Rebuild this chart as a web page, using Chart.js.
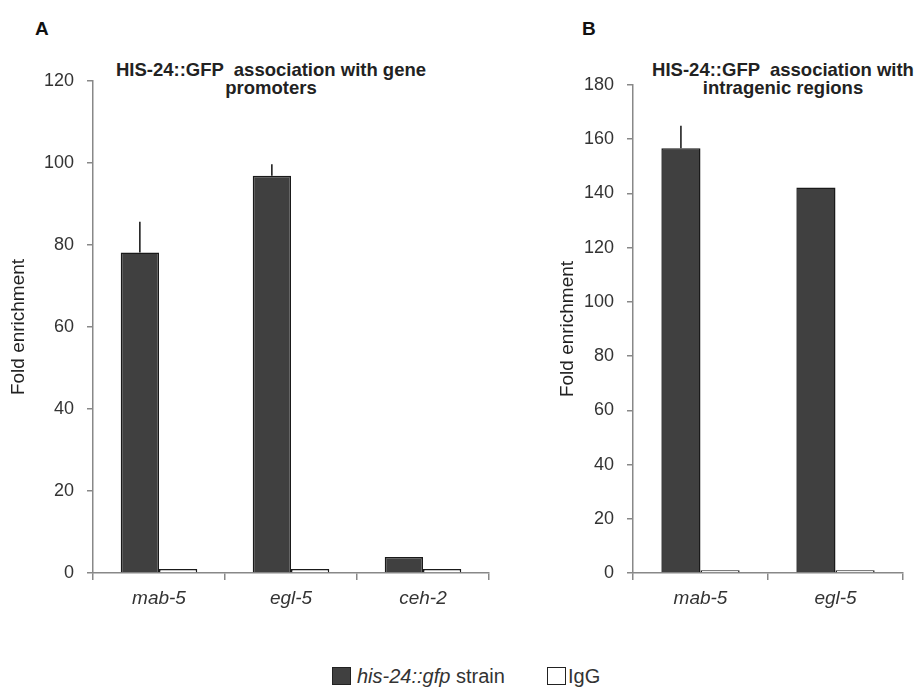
<!DOCTYPE html>
<html>
<head>
<meta charset="utf-8">
<script src="https://cdn.jsdelivr.net/npm/chart.js@4"></script>
<style>
  html, body { margin: 0; padding: 0; background: #fff; overflow: hidden; }
  body { width: 917px; height: 688px; position: relative; font-family: 'Liberation Sans', Arial, sans-serif; }
  canvas { position: absolute; top: 0; }
  .letter { position: absolute; font-weight: bold; font-size: 19px; color: #111; }
  .title { position: absolute; font-weight: bold; font-size: 18.5px; line-height: 18px; color: #222; text-align: center; white-space: pre; }
  .lg { position: absolute; font-size: 20px; line-height: 20px; color: #333; white-space: pre; }
  .box { position: absolute; width: 17px; height: 16px; border: 1px solid #222; }
</style>
</head>
<body>
<div class="letter" style="left:35px; top:18px;">A</div>
<div class="letter" style="left:582px; top:18px;">B</div>
<div class="title" style="left:71px; width:400px; top:61px;">HIS-24::GFP  association with gene
promoters</div>
<div class="title" style="left:633px; width:300px; top:61px;">HIS-24::GFP  association with
intragenic regions</div>

<canvas id="chartA" width="542" height="640" style="left:0px;"></canvas>
<canvas id="chartB" width="375" height="640" style="left:542px;"></canvas>

<div class="box" style="left:332px; top:667px; background:#404040;"></div>
<div class="lg" style="left:357px; top:666px;"><i>his-24::gfp</i> strain</div>
<div class="box" style="left:547px; top:667px; background:#fff;"></div>
<div class="lg" style="left:568px; top:666px;">IgG</div>

<script>
// panel A: promoters
const catsA = ['mab-5', 'egl-5', 'ceh-2'];
const strainA = [78.2, 96.9, 3.9];
const strainErrA = [7.5, 2.8, 0];
const iggA = [1, 1, 1];
const yTicksA = [0, 20, 40, 60, 80, 100, 120];

// panel B: intragenic regions
const catsB = ['mab-5', 'egl-5'];
const strainB = [156.7, 142.2];
const strainErrB = [8.3, 0];
const iggB = [1, 1];
const yTicksB = [0, 20, 40, 60, 80, 100, 120, 140, 160, 180];

const font = "'Liberation Sans', Arial, sans-serif";

// upward-only error bars on the first dataset
const errorBars = {
  id: 'errorBars',
  afterDatasetsDraw(chart, args, opts) {
    const meta = chart.getDatasetMeta(0);
    const y = chart.scales.y;
    const vals = chart.data.datasets[0].data;
    const ctx = chart.ctx;
    ctx.save();
    ctx.strokeStyle = '#111';
    ctx.lineWidth = 1.5;
    meta.data.forEach((bar, i) => {
      const err = opts.errors[i];
      if (!err) return;
      ctx.beginPath();
      ctx.moveTo(bar.x, y.getPixelForValue(vals[i]));
      ctx.lineTo(bar.x, y.getPixelForValue(vals[i] + err));
      ctx.stroke();
    });
    ctx.restore();
  }
};

function makeChart(id, cats, strain, igg, errs, ticks, pad, yWidth, titlePad) {
  return new Chart(document.getElementById(id), {
    type: 'bar',
    data: {
      labels: cats,
      datasets: [
        { label: 'his-24::gfp strain', data: strain, backgroundColor: '#404040', borderColor: '#1a1a1a', borderWidth: 1.5 },
        { label: 'IgG', data: igg, backgroundColor: '#ffffff', borderColor: '#1a1a1a', borderWidth: 1.5 }
      ]
    },
    options: {
      responsive: false,
      animation: false,
      datasets: { bar: { categoryPercentage: 0.58, barPercentage: 1 } },
      layout: { padding: pad },
      plugins: {
        legend: { display: false },
        tooltip: { enabled: false },
        errorBars: { errors: errs }
      },
      scales: {
        x: {
          grid: { display: true, offset: true, drawOnChartArea: false, drawTicks: true, tickLength: 7, color: '#888', lineWidth: 1.5 },
          border: { color: '#888', width: 1.5 },
          ticks: { color: '#333', padding: 7, font: { family: font, size: 19, style: 'italic' } },
          afterFit(scale) { scale.height = 50; }
        },
        y: {
          min: 0,
          max: ticks[ticks.length - 1],
          afterBuildTicks(scale) { scale.ticks = ticks.map(v => ({ value: v })); },
          grid: { drawOnChartArea: false, drawTicks: true, tickLength: 6, color: '#888', lineWidth: 1.5 },
          border: { color: '#888', width: 1.5 },
          ticks: { color: '#333', padding: 13, font: { family: font, size: 18 } },
          title: { display: true, text: 'Fold enrichment', color: '#222', padding: { top: titlePad, bottom: 0 }, font: { family: font, size: 19 } },
          afterFit(scale) { scale.width = yWidth; }
        }
      }
    },
    plugins: [errorBars]
  });
}

makeChart('chartA', catsA, strainA, iggA, strainErrA, yTicksA, { top: 81, bottom: 17, left: 0, right: 53 }, 93, 7);
makeChart('chartB', catsB, strainB, iggB, strainErrB, yTicksB, { top: 85, bottom: 17, left: 0, right: 14 }, 91, 14);
</script>
</body>
</html>
